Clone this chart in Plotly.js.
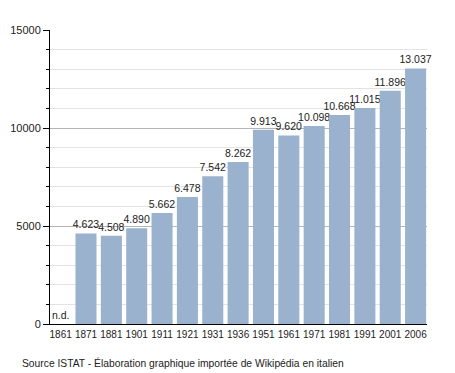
<!DOCTYPE html>
<html>
<head>
<meta charset="utf-8">
<script src="https://cdn.plot.ly/plotly-3.0.1.min.js"></script>
<style>html,body{margin:0;padding:0;background:#fff;}#chart{width:455px;height:373px;}</style>
</head>
<body>
<div id="chart"></div>
<script>
const years = ["1861","1871","1881","1901","1911","1921","1931","1936","1951","1961","1971","1981","1991","2001","2006"];
const population = [null,4623,4508,4890,5662,6478,7542,8262,9913,9620,10098,10668,11015,11896,13037];
const labels = ["n.d.","4.623","4.508","4.890","5.662","6.478","7.542","8.262","9.913","9.620","10.098","10.668","11.015","11.896","13.037"];
const sourceText = "Source ISTAT - Élaboration graphique importée de Wikipédia en italien";

const font = "Liberation Sans, Arial, sans-serif";

const trace = {
  type: "bar",
  x: years,
  y: population,
  text: labels.map((t, i) => population[i] === null ? "" : t),
  textposition: "outside",
  constraintext: "none",
  cliponaxis: false,
  textfont: {family: font, size: 10.5, color: "#222"},
  marker: {color: "#9ab2cd", line: {width: 0}},
  hoverinfo: "none"
};

const ndIndex = population.findIndex(v => v === null);

const layout = {
  width: 455, height: 373,
  margin: {l: 50, r: 28, t: 30, b: 49, pad: 0},
  paper_bgcolor: "#fff", plot_bgcolor: "#fff",
  showlegend: false,
  bargap: 0.17,
  font: {family: font, color: "#222"},
  xaxis: {
    type: "category",
    range: [-0.42, 14.45],
    showgrid: false,
    showline: true, linecolor: "#000", linewidth: 1,
    ticks: "", tickfont: {family: font, size: 10, color: "#222"},
    ticklabelstandoff: 1,
    zeroline: false
  },
  yaxis: {
    range: [0, 15000],
    tickvals: [0, 5000, 10000, 15000],
    ticktext: ["0", "5000", "10000", "15000"],
    showgrid: true, gridcolor: "#b5b5b5", gridwidth: 1,
    showline: true, linecolor: "#000", linewidth: 1,
    ticks: "outside", ticklen: 6, tickcolor: "#000",
    tickfont: {family: font, size: 11, color: "#222"},
    zeroline: false,
    minor: {dtick: 1000, ticks: "outside", ticklen: 3, tickcolor: "#000", showgrid: true, gridcolor: "#e3e3e3", gridwidth: 1}
  },
  annotations: [
    {x: ndIndex, y: 0, xref: "x", yref: "y", text: labels[ndIndex], showarrow: false,
     xanchor: "center", yanchor: "bottom", yshift: 1, font: {family: font, size: 10.5, color: "#222"}},
    {x: -30/377, y: -39/294, xref: "paper", yref: "paper", text: sourceText, showarrow: false,
     xanchor: "left", yanchor: "middle", font: {family: font, size: 10.3, color: "#222"}}
  ]
};

Plotly.newPlot("chart", [trace], layout, {staticPlot: true, displayModeBar: false});
</script>
</body>
</html>
